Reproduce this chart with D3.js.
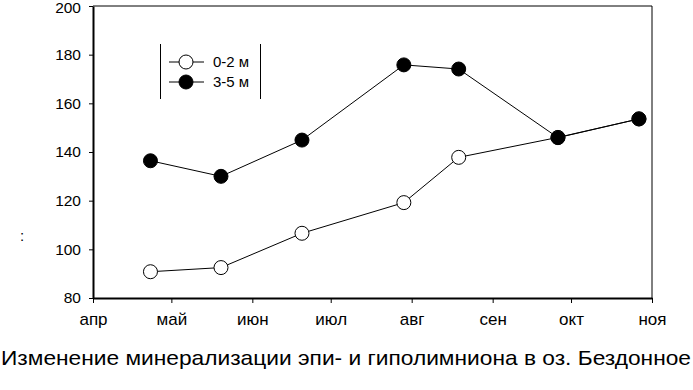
<!DOCTYPE html>
<html>
<head>
<meta charset="utf-8">
<script src="https://cdn.jsdelivr.net/npm/d3@7"></script>
<style>
  body { margin: 0; background: #fff; }
  text { font-family: "Liberation Sans", Arial, sans-serif; fill: #000; }
</style>
</head>
<body>
<div id="chart"></div>
<script>
// sampling dates and values
const dates = ["2001-04-23", "2001-05-20", "2001-06-20", "2001-07-29", "2001-08-19", "2001-09-26", "2001-10-27"];
const epi = [90.8, 92.5, 106.6, 119.2, 137.8, 146, 153.6];     // 0-2 м
const hypo = [136.4, 130, 144.9, 175.8, 174.1, 145.9, 153.6];  // 3-5 м
const monthLabels = ["апр", "май", "июн", "июл", "авг", "сен", "окт", "ноя"];
const yTicks = [80, 100, 120, 140, 160, 180, 200];
const seriesNames = ["0-2 м", "3-5 м"];

(function () {
    let width = 693, height = 390;
    let svg = d3.select("#chart")
        .append("svg")
        .attr("width", width)
        .attr("height", height);

    let parse = d3.timeParse("%Y-%m-%d");
    let monthDates = d3.timeMonth.range(parse("2001-04-01"), parse("2001-11-02"));

    let x = d3.scaleTime()
        .domain([parse("2001-04-01"), parse("2001-11-01")])
        .range([93, 652]);
    let y = d3.scaleLinear()
        .domain([80, 200])
        .range([298, 6]);

    // frame: thin top and right
    svg.append("path")
        .attr("d", `M93,6H652V298`)
        .attr("fill", "none")
        .attr("stroke", "black")
        .attr("stroke-width", 1);

    let xAxis = svg.append("g")
        .attr("transform", "translate(0,298)")
        .call(d3.axisBottom(x)
            .tickValues(monthDates)
            .tickSize(5)
            .tickSizeOuter(0)
            .tickFormat((d, i) => monthLabels[i]));
    xAxis.select(".domain").attr("stroke-width", 2);
    xAxis.selectAll("text")
        .attr("font-size", "17px")
        .attr("font-family", "Liberation Sans, Arial, sans-serif")
        .attr("dy", null)
        .attr("y", 27);

    let yAxis = svg.append("g")
        .attr("transform", "translate(93,0)")
        .call(d3.axisLeft(y)
            .tickValues(yTicks)
            .tickSize(4)
            .tickSizeOuter(0));
    yAxis.select(".domain").attr("stroke-width", 2);
    yAxis.selectAll("text")
        .attr("font-size", "15.5px")
        .attr("font-family", "Liberation Sans, Arial, sans-serif")
        .attr("x", -12);
    // top label sits against the edge; nudge it just inside
    yAxis.selectAll("text").filter(d => d === 200).attr("y", 2);

    let line = d3.line()
        .x(d => x(parse(d[0])))
        .y(d => y(d[1]));

    let series = [
        { name: seriesNames[0], values: dates.map((d, i) => [d, epi[i]]), fill: "white" },
        { name: seriesNames[1], values: dates.map((d, i) => [d, hypo[i]]), fill: "black" }
    ];

    series.forEach(s => {
        svg.append("path")
            .datum(s.values)
            .attr("d", line)
            .attr("fill", "none")
            .attr("stroke", "black")
            .attr("stroke-width", 1);
    });
    series.forEach(s => {
        svg.selectAll(null)
            .data(s.values)
            .enter()
            .append("circle")
            .attr("cx", d => x(parse(d[0])))
            .attr("cy", d => y(d[1]))
            .attr("r", 7)
            .attr("fill", s.fill)
            .attr("stroke", "black")
            .attr("stroke-width", 1);
    });

    // legend
    let lg = svg.append("g");
    lg.append("line").attr("x1", 160.5).attr("x2", 160.5).attr("y1", 44).attr("y2", 99).attr("stroke", "black");
    lg.append("line").attr("x1", 260.5).attr("x2", 260.5).attr("y1", 44).attr("y2", 99).attr("stroke", "black");
    series.forEach((s, i) => {
        let yy = 62 + i * 20;
        lg.append("line").attr("x1", 169).attr("x2", 204).attr("y1", yy).attr("y2", yy).attr("stroke", "black");
        lg.append("circle").attr("cx", 186).attr("cy", yy).attr("r", 7)
            .attr("fill", s.fill).attr("stroke", "black");
        lg.append("text").attr("x", 213).attr("y", yy + 5)
            .attr("font-size", "15px").text(s.name);
    });

    svg.append("text")
        .attr("x", 20).attr("y", 241)
        .attr("font-size", "15px")
        .text(":");

    svg.append("text")
        .attr("x", 1).attr("y", 365)
        .attr("font-size", "21px")
        .attr("textLength", 690)
        .attr("lengthAdjust", "spacingAndGlyphs")
        .text("Изменение минерализации эпи- и гиполимниона в оз. Бездонное");
})();
</script>
</body>
</html>
